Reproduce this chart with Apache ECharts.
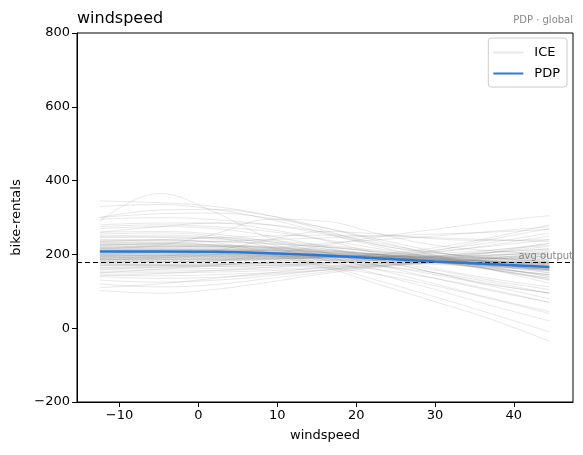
<!DOCTYPE html>
<html>
<head>
<meta charset="utf-8">
<script src="https://cdn.jsdelivr.net/npm/echarts@6/dist/echarts.min.js"></script>
<style>
  html, body { margin: 0; padding: 0; background: #fff; }
  #chart { width: 583px; height: 455px; }
</style>
</head>
<body>
<div id="chart"></div>
<script>
// windspeed grid where every curve is sampled
var xs = [-12.5, -5, 2, 9, 16, 23, 30, 37, 44.5];

// ICE curves, one per row
var ice = [
    [290, 365, 315, 245, 215, 200, 195, 190, 185],
    [345, 340, 330, 305, 265, 225, 205, 190, 180],
    [330, 335, 322, 295, 258, 220, 190, 165, 145],
    [300, 310, 312, 298, 272, 240, 208, 180, 150],
    [295, 300, 294, 280, 255, 225, 197, 168, 140],
    [280, 285, 285, 268, 238, 200, 162, 135, 112],
    [270, 275, 270, 250, 220, 185, 150, 120, 95],
    [260, 262, 255, 235, 205, 170, 135, 102, 70],
    [255, 258, 250, 228, 195, 158, 120, 82, 45],
    [250, 252, 245, 220, 185, 145, 105, 62, 20],
    [240, 240, 232, 205, 170, 128, 85, 40, -10],
    [230, 232, 225, 200, 165, 118, 72, 25, -35],
    [245, 248, 245, 238, 225, 210, 190, 170, 150],
    [235, 236, 234, 228, 220, 205, 185, 160, 130],
    [225, 226, 224, 220, 212, 200, 185, 165, 140],
    [220, 222, 222, 218, 210, 198, 182, 160, 135],
    [215, 216, 215, 212, 205, 195, 180, 160, 135],
    [212, 213, 212, 208, 202, 192, 178, 158, 132],
    [210, 210, 209, 206, 200, 190, 178, 162, 145],
    [208, 208, 207, 204, 198, 190, 180, 168, 155],
    [206, 206, 205, 203, 198, 190, 182, 172, 162],
    [204, 205, 204, 202, 198, 192, 185, 176, 168],
    [202, 203, 202, 200, 196, 190, 184, 178, 172],
    [200, 200, 200, 198, 195, 190, 185, 180, 176],
    [198, 198, 198, 196, 194, 190, 187, 184, 182],
    [196, 196, 196, 195, 193, 191, 190, 190, 192],
    [194, 195, 195, 194, 193, 192, 194, 198, 205],
    [192, 192, 193, 193, 193, 194, 198, 205, 215],
    [190, 190, 191, 192, 193, 196, 202, 212, 225],
    [188, 188, 189, 191, 194, 199, 208, 222, 240],
    [185, 185, 186, 189, 193, 200, 212, 232, 258],
    [180, 180, 182, 186, 192, 202, 218, 245, 280],
    [175, 176, 182, 200, 225, 248, 268, 288, 305],
    [170, 170, 172, 176, 183, 192, 205, 225, 250],
    [165, 165, 167, 170, 176, 184, 195, 210, 230],
    [160, 160, 162, 165, 170, 177, 186, 198, 212],
    [155, 155, 157, 160, 165, 172, 180, 190, 200],
    [150, 150, 152, 156, 162, 170, 178, 186, 195],
    [145, 142, 145, 150, 158, 168, 178, 190, 205],
    [140, 135, 138, 146, 157, 170, 185, 205, 230],
    [130, 125, 130, 142, 158, 175, 190, 205, 222],
    [120, 112, 118, 135, 152, 168, 182, 195, 208],
    [102, 95, 105, 125, 148, 165, 178, 188, 196],
    [110, 120, 135, 150, 165, 175, 180, 180, 178],
    [150, 160, 170, 180, 185, 185, 180, 170, 160],
    [185, 190, 200, 215, 230, 240, 250, 262, 275],
    [215, 225, 255, 295, 290, 255, 225, 210, 200],
    [190, 195, 210, 240, 262, 255, 242, 238, 240],
    [225, 230, 235, 240, 245, 250, 255, 260, 268],
    [235, 240, 245, 250, 252, 250, 245, 240, 235],
    [175, 170, 168, 170, 178, 190, 210, 240, 270],
    [170, 172, 175, 178, 178, 168, 150, 125, 95],
    [165, 168, 172, 176, 172, 158, 135, 105, 70],
    [160, 165, 170, 172, 165, 145, 115, 80, 40],
    [200, 205, 210, 210, 200, 180, 150, 115, 80],
    [195, 198, 200, 198, 188, 170, 145, 118, 95],
    [218, 220, 222, 218, 205, 185, 158, 130, 105],
    [228, 228, 226, 222, 214, 200, 182, 162, 145],
    [185, 186, 188, 190, 192, 194, 196, 198, 200],
    [178, 180, 183, 187, 190, 192, 193, 194, 195],
    [208, 210, 212, 212, 208, 200, 190, 180, 170],
    [212, 214, 214, 210, 203, 194, 186, 180, 176],
    [203, 204, 204, 203, 200, 196, 192, 190, 188],
    [197, 197, 198, 198, 197, 195, 192, 188, 184],
    [190, 192, 194, 196, 196, 194, 190, 184, 178],
    [182, 184, 186, 188, 189, 189, 187, 182, 175],
    [260, 275, 285, 280, 260, 230, 205, 190, 180],
    [300, 320, 322, 305, 272, 235, 198, 160, 122],
    [275, 280, 275, 262, 240, 215, 195, 180, 170],
    [142, 148, 156, 165, 175, 185, 195, 205, 215],
    [215, 214, 212, 210, 205, 198, 190, 180, 168],
    [210, 211, 210, 207, 201, 193, 184, 174, 162],
    [205, 206, 206, 204, 199, 191, 182, 172, 160],
    [200, 201, 201, 199, 195, 188, 180, 170, 158],
    [222, 222, 220, 214, 205, 194, 182, 170, 158],
    [218, 219, 218, 214, 206, 196, 186, 176, 166],
    [195, 195, 196, 195, 192, 187, 180, 172, 164],
    [190, 190, 191, 190, 188, 184, 178, 170, 160],
    [226, 225, 222, 216, 208, 198, 188, 180, 174],
    [232, 230, 226, 219, 210, 200, 190, 182, 176],
    [186, 186, 187, 187, 186, 183, 178, 172, 165],
    [180, 181, 182, 183, 183, 181, 176, 168, 158],
    [238, 238, 236, 230, 220, 206, 190, 174, 158],
    [172, 173, 175, 177, 178, 177, 173, 166, 156],
    [248, 246, 242, 234, 222, 208, 194, 182, 172]
];

// partial dependence (average curve)
var pdp = [208, 208, 207, 203, 197, 189, 181, 174, 166];
var avgOutput = 178;

var xTicks = [-10, 0, 10, 20, 30, 40];

function pairs(row) {
    return xs.map(function (x, i) { return [x, row[i]]; });
}
function minus(v) {
    return String(v).replace('-', '\u2212');
}

var font = 'DejaVu Sans';
var series = [];
ice.forEach(function (row) {
    series.push({
        name: 'ICE',
        type: 'line',
        data: pairs(row),
        smooth: 0.4,
        symbol: 'none',
        silent: true,
        itemStyle: { color: '#808080' },
        lineStyle: { color: '#808080', width: 1, opacity: 0.18 },
        z: 2
    });
});
series.push({
    name: 'PDP',
    type: 'line',
    data: pairs(pdp),
    smooth: 0.4,
    symbol: 'none',
    itemStyle: { color: '#2a79d6' },
    lineStyle: { color: '#2a79d6', width: 2.5 },
    z: 5,
    markLine: {
        silent: true,
        symbol: 'none',
        lineStyle: { color: '#000', type: [5, 3], width: 1.2 },
        label: {
            position: 'insideEndTop',
            formatter: 'avg output',
            color: '#888',
            fontSize: 10,
            fontFamily: font,
            distance: [0, 1]
        },
        data: [{ yAxis: avgOutput }]
    }
});

var chart = echarts.init(document.getElementById('chart'));
chart.setOption({
    animation: false,
    backgroundColor: '#fff',
    textStyle: { fontFamily: font },
    title: [
        { text: 'windspeed', left: 72, top: 6,
          textStyle: { fontSize: 16, fontWeight: 'normal', color: '#000', fontFamily: font } },
        { text: 'PDP · global', right: 5, top: 10,
          textStyle: { fontSize: 10, fontWeight: 'normal', color: '#888', fontFamily: font } }
    ],
    legend: {
        data: ['ICE', 'PDP'],
        orient: 'vertical',
        right: 16,
        top: 38,
        itemWidth: 30,
        itemHeight: 10,
        itemGap: 8,
        padding: [8, 7, 7, 4],
        backgroundColor: 'rgba(255,255,255,0.8)',
        borderColor: '#ccc',
        borderWidth: 1,
        borderRadius: 3,
        itemStyle: { opacity: 0 },
        textStyle: { fontSize: 13, color: '#000', fontFamily: font, padding: [0, 0, 0, 6] }
    },
    grid: {
        left: 77, right: 10, top: 33, bottom: 53,
        show: true, borderColor: '#000', borderWidth: 1
    },
    xAxis: {
        type: 'value',
        min: -15.4,
        max: 47.5,
        name: 'windspeed',
        nameLocation: 'middle',
        nameGap: 27,
        nameTextStyle: { fontSize: 13, color: '#000', fontFamily: font },
        axisLine: { show: true, onZero: false, lineStyle: { color: '#000' } },
        axisTick: { show: true, length: 5, lineStyle: { color: '#000' }, customValues: xTicks },
        axisLabel: { fontSize: 13, color: '#000', margin: 7, customValues: xTicks, formatter: minus },
        splitLine: { show: false }
    },
    yAxis: {
        type: 'value',
        min: -200,
        max: 800,
        interval: 200,
        name: 'bike-rentals',
        nameLocation: 'middle',
        nameGap: 53,
        nameTextStyle: { fontSize: 13, color: '#000', fontFamily: font },
        axisLine: { show: true, onZero: false, lineStyle: { color: '#000' } },
        axisTick: { show: true, length: 5, lineStyle: { color: '#000' } },
        axisLabel: { fontSize: 13, color: '#000', margin: 7, formatter: minus },
        splitLine: { show: false }
    },
    series: series
});
</script>
</body>
</html>
